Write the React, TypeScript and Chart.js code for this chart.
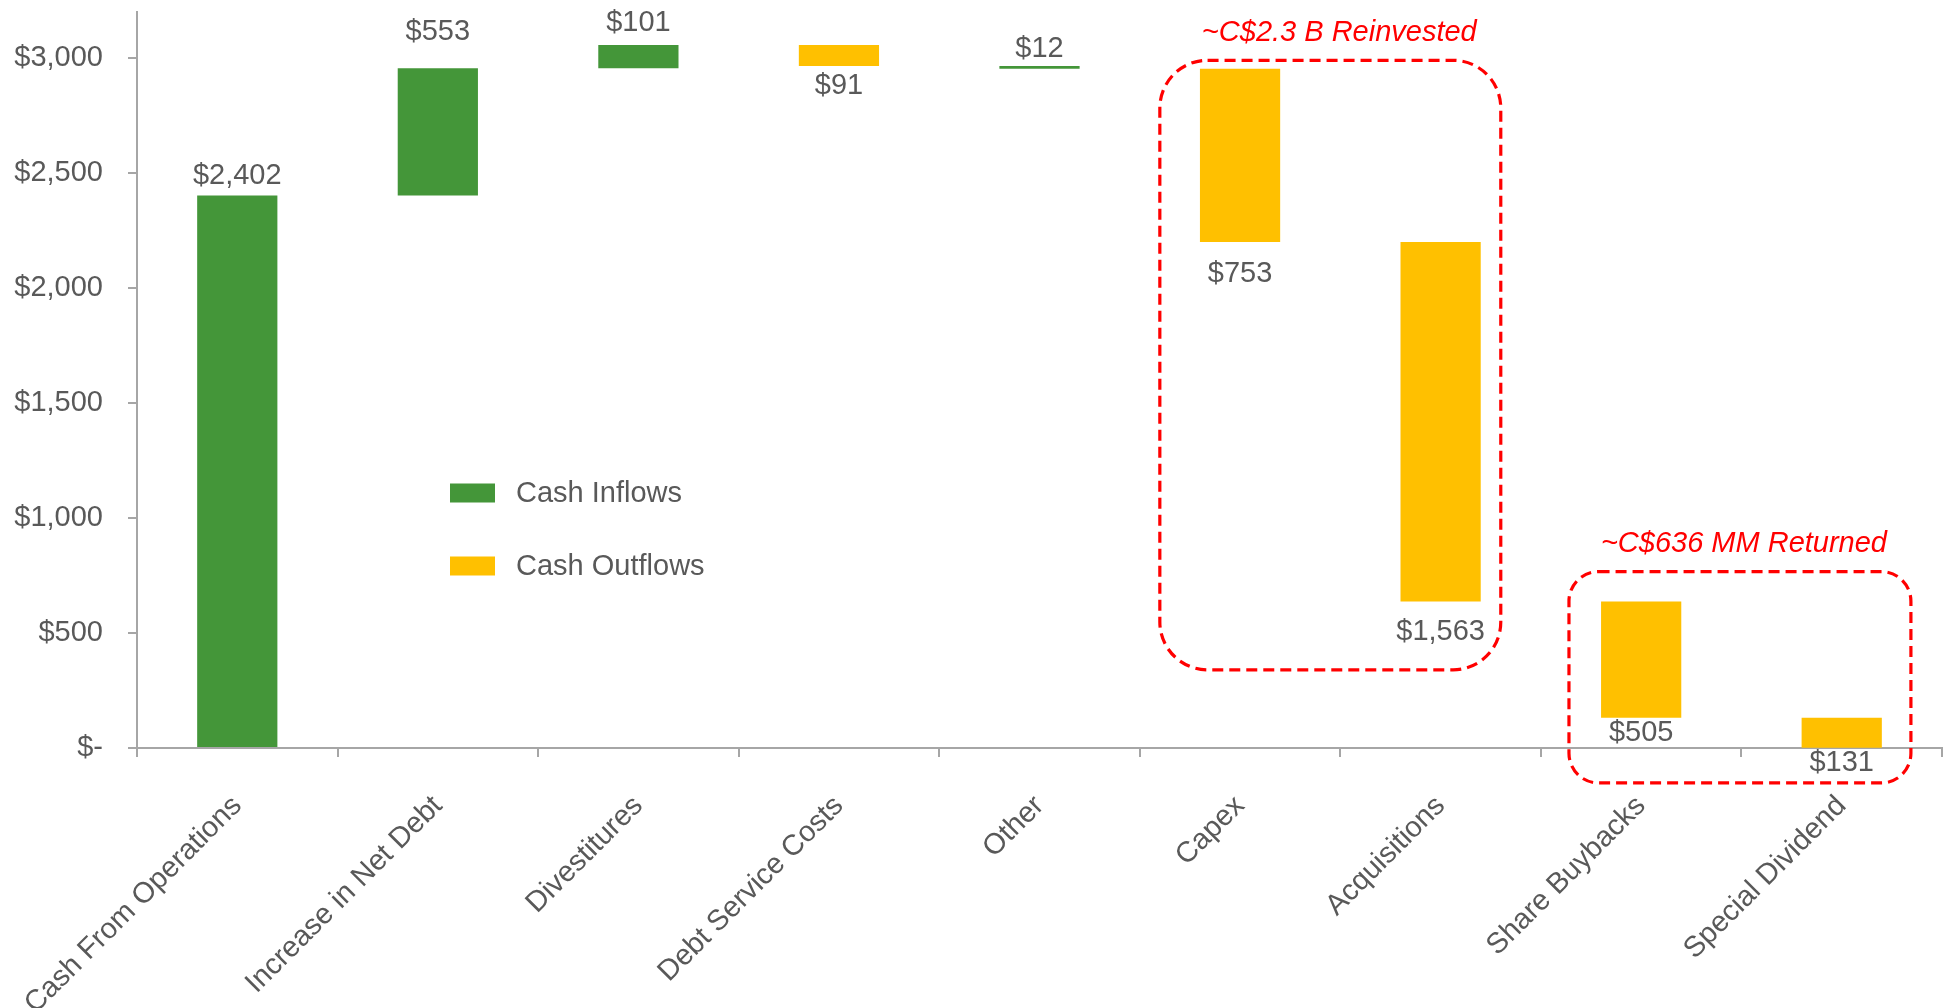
import React, { useEffect, useRef } from "react";
import { Chart, registerables } from "chart.js";

Chart.register(...registerables);

// ---------- data ----------
const CATEGORIES = [
  "Cash From Operations",
  "Increase in Net Debt",
  "Divestitures",
  "Debt Service Costs",
  "Other",
  "Capex",
  "Acquisitions",
  "Share Buybacks",
  "Special Dividend",
];
const CHANGES = [2402, 553, 101, -91, -12, -753, -1563, -505, -131];
const FLOW_TYPE = ["in", "in", "in", "out", "in", "out", "out", "out", "out"];
const VALUE_LABELS = ["$2,402", "$553", "$101", "$91", "$12", "$753", "$1,563", "$505", "$131"];
const LABEL_SIDE = ["above", "above", "above", "below", "above", "below", "below", "below", "below"];
const Y_TICK_VALUES = [0, 500, 1000, 1500, 2000, 2500, 3000];
const SERIES_NAMES = ["Cash Inflows", "Cash Outflows"];
const ANNOTATION_TEXTS = ["~C$2.3 B Reinvested", "~C$636 MM Returned"];

// ---------- styling / layout ----------
const GREEN = "#449639";
const YELLOW = "#FFC000";
const TEXT = "#595959";
const AXIS = "#A6A6A6";
const RED = "#FF0000";
const FONT = "'Liberation Sans', Arial, sans-serif";
const FONT_SIZE = 29;
const LABEL_OFFSETS = [20, 36, 22, 19.5, 17, 32, 31, 15, 15];

const BOXES = [
  { from: 5, to: 6, leftFrac: -0.4, rightFrac: 0.3, top: 2990, bottom: 340, text: 0, textValue: 3108, textDx: 9 },
  { from: 7, to: 8, leftFrac: -0.36, rightFrac: 0.345, top: 767, bottom: -152, text: 1, textValue: 889, textDx: 4 },
];

const LEGEND_POS = { x: 450, y: 493, rowGap: 73, swatchW: 45, swatchH: 19, textGap: 21 };

function buildRanges() {
  let running = 0;
  return CHANGES.map((c) => {
    const start = running;
    running += c;
    return [Math.min(start, running), Math.max(start, running)] as [number, number];
  });
}

const valueLabelsPlugin = {
  id: "valueLabels",
  afterDatasetsDraw(chart: any) {
    const ctx = chart.ctx;
    ctx.save();
    ctx.font = `${FONT_SIZE}px ${FONT}`;
    ctx.fillStyle = TEXT;
    ctx.textAlign = "center";
    ctx.textBaseline = "middle";
    chart.data.datasets.forEach((ds: any, di: number) => {
      const meta = chart.getDatasetMeta(di);
      meta.data.forEach((el: any, i: number) => {
        if (ds.data[i] == null) return;
        const top = Math.min(el.y, el.base);
        const bottom = Math.max(el.y, el.base);
        const y = LABEL_SIDE[i] === "above" ? top - LABEL_OFFSETS[i] : bottom + LABEL_OFFSETS[i];
        ctx.fillText(VALUE_LABELS[i], el.x, y);
      });
    });
    ctx.restore();
  },
};

const legendPlugin = {
  id: "customLegend",
  afterDraw(chart: any) {
    const ctx = chart.ctx;
    ctx.save();
    ctx.font = `${FONT_SIZE}px ${FONT}`;
    ctx.textAlign = "left";
    ctx.textBaseline = "middle";
    chart.data.datasets.forEach((ds: any, i: number) => {
      const cy = LEGEND_POS.y + i * LEGEND_POS.rowGap;
      ctx.fillStyle = ds.backgroundColor;
      ctx.fillRect(LEGEND_POS.x, cy - LEGEND_POS.swatchH / 2, LEGEND_POS.swatchW, LEGEND_POS.swatchH);
      ctx.fillStyle = TEXT;
      ctx.fillText(ds.label, LEGEND_POS.x + LEGEND_POS.swatchW + LEGEND_POS.textGap, cy + 1);
    });
    ctx.restore();
  },
};

function roundedRectPath(ctx: CanvasRenderingContext2D, x: number, y: number, w: number, h: number, r: number) {
  ctx.beginPath();
  ctx.moveTo(x + r, y);
  ctx.lineTo(x + w - r, y);
  ctx.arcTo(x + w, y, x + w, y + r, r);
  ctx.lineTo(x + w, y + h - r);
  ctx.arcTo(x + w, y + h, x + w - r, y + h, r);
  ctx.lineTo(x + r, y + h);
  ctx.arcTo(x, y + h, x, y + h - r, r);
  ctx.lineTo(x, y + r);
  ctx.arcTo(x, y, x + r, y, r);
  ctx.closePath();
}

const annotationPlugin = {
  id: "boxes",
  afterDraw(chart: any) {
    const ctx = chart.ctx;
    const xs = chart.scales.x;
    const ys = chart.scales.y;
    const catW = (chart.chartArea.right - chart.chartArea.left) / CATEGORIES.length;
    ctx.save();
    BOXES.forEach((b) => {
      const left = xs.getPixelForValue(b.from) + b.leftFrac * catW;
      const right = xs.getPixelForValue(b.to) + b.rightFrac * catW;
      const top = ys.getPixelForValue(b.top);
      const bottom = ys.getPixelForValue(b.bottom);
      const w = right - left;
      const h = bottom - top;
      const r = 0.14 * Math.min(w, h);
      ctx.strokeStyle = RED;
      ctx.lineWidth = 3.2;
      ctx.setLineDash([11, 6]);
      roundedRectPath(ctx, left, top, w, h, r);
      ctx.stroke();
      ctx.setLineDash([]);
      ctx.fillStyle = RED;
      ctx.font = `italic ${FONT_SIZE}px ${FONT}`;
      ctx.textAlign = "center";
      ctx.textBaseline = "middle";
      ctx.fillText(ANNOTATION_TEXTS[b.text], (left + right) / 2 + b.textDx, ys.getPixelForValue(b.textValue));
    });
    ctx.restore();
  },
};

export default function App() {
  const canvasRef = useRef<HTMLCanvasElement | null>(null);

  useEffect(() => {
    if (!canvasRef.current) return;
    const ranges = buildRanges();
    const inflows = ranges.map((r, i) => (FLOW_TYPE[i] === "in" ? r : null));
    const outflows = ranges.map((r, i) => (FLOW_TYPE[i] === "out" ? r : null));

    const chart = new Chart(canvasRef.current, {
      type: "bar",
      data: {
        labels: CATEGORIES,
        datasets: [
          { label: SERIES_NAMES[0], data: inflows as any, backgroundColor: GREEN, barPercentage: 0.4, categoryPercentage: 1 },
          { label: SERIES_NAMES[1], data: outflows as any, backgroundColor: YELLOW, barPercentage: 0.4, categoryPercentage: 1 },
        ],
      },
      options: {
        responsive: false,
        animation: false,
        layout: { padding: { top: 12, right: 4, left: 0, bottom: 0 } },
        plugins: {
          legend: { display: false },
          tooltip: { enabled: false },
        },
        scales: {
          x: {
            type: "category",
            stacked: true,
            offset: true,
            grid: { offset: true, drawOnChartArea: false, tickLength: 9, color: AXIS, lineWidth: 2 },
            border: { color: AXIS, width: 2 },
            ticks: {
              autoSkip: false,
              maxRotation: 45,
              minRotation: 45,
              padding: 32,
              color: TEXT,
              font: { family: FONT, size: FONT_SIZE },
            },
            afterFit: (scale: any) => {
              scale.height = 260;
              scale.paddingLeft = 0;
              scale.paddingRight = 0;
              scale.paddingTop = 0;
              scale.paddingBottom = 0;
            },
          },
          y: {
            type: "linear",
            stacked: false,
            min: 0,
            max: 3200,
            grid: { drawOnChartArea: false, tickLength: 9, color: AXIS, lineWidth: 2 },
            border: { color: AXIS, width: 2 },
            ticks: {
              stepSize: 500,
              padding: 25,
              color: TEXT,
              font: { family: FONT, size: FONT_SIZE },
              callback: (v: any) => (Number(v) === 0 ? "$-" : "$" + Number(v).toLocaleString("en-US")),
            },
            afterBuildTicks: (scale: any) => {
              scale.ticks = Y_TICK_VALUES.map((v) => ({ value: v }));
            },
            afterFit: (scale: any) => {
              scale.width = 137;
              scale.paddingTop = 0;
              scale.paddingBottom = 0;
              scale.paddingLeft = 0;
              scale.paddingRight = 0;
            },
          },
        },
      },
      plugins: [valueLabelsPlugin, legendPlugin, annotationPlugin],
    });
    return () => chart.destroy();
  }, []);

  return (
    <div style={{ position: "fixed", left: 0, top: 0, width: 1946, height: 1008, background: "#fff" }}>
      <canvas ref={canvasRef} width={1946} height={1008} style={{ width: 1946, height: 1008 }} />
    </div>
  );
}
